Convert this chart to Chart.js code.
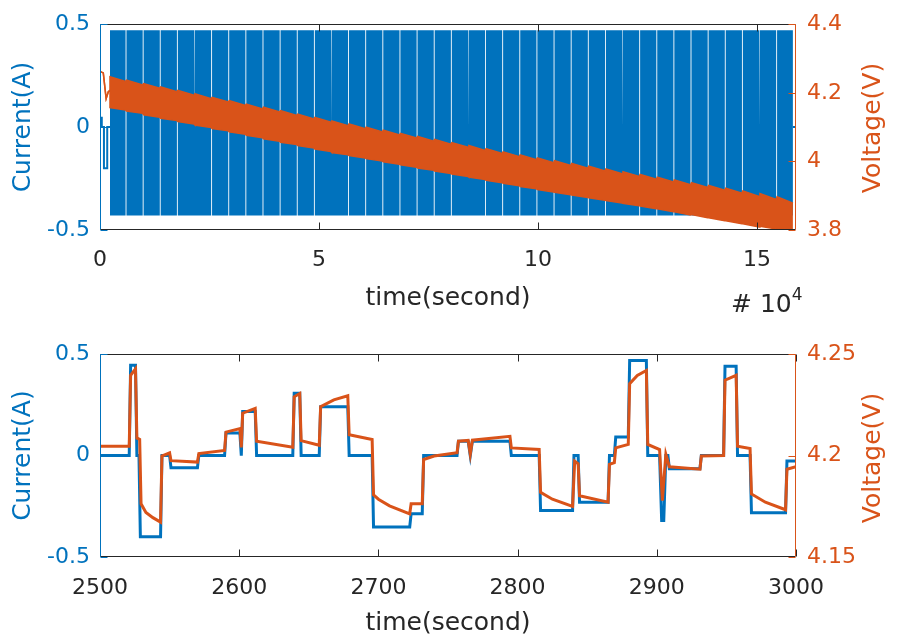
<!DOCTYPE html>
<html>
<head>
<meta charset="utf-8">
<script src="https://cdn.jsdelivr.net/npm/chart.js@4.4.0/dist/chart.umd.min.js"></script>
<style>
  html, body { margin: 0; padding: 0; background: #fff; }
  #wrap { position: relative; width: 899px; height: 637px; overflow: hidden; font-family: "DejaVu Sans", sans-serif; }
  canvas { position: absolute; left: 0; }
  #topChart { top: 0; }
  #bottomChart { top: 330px; }
  .ylab-right { position: absolute; width: 200px; height: 30px; line-height: 30px; font-size: 25px; text-align: center; color: #D95319; transform: rotate(-90deg); white-space: nowrap; }
  #exp { position: absolute; left: 731px; top: 291px; font-size: 25px; line-height: 25px; color: #262626; white-space: nowrap; }
  #exp span { font-size: 17px; position: relative; top: -12px; }
</style>
</head>
<body>
<div id="wrap">
  <canvas id="topChart" width="899" height="330"></canvas>
  <canvas id="bottomChart" width="899" height="320"></canvas>
  <div class="ylab-right" style="left:772px; top:113px">Voltage(V)</div>
  <div class="ylab-right" style="left:772px; top:443px">Voltage(V)</div>
  <div id="exp"># 10<span>4</span></div>
</div>
<script>
const BLUE = '#0072BD', ORANGE = '#D95319', DARK = '#262626';
const FAMILY = '"DejaVu Sans", sans-serif';

// ---- top panel: whole test
const fullTimeTicks = [0, 50000, 100000, 150000];
const fullTimeLabels = ['0', '5', '10', '15'];
const currentTicks = [-0.5, 0, 0.5];
const currentLabels = ['-0.5', '0', '0.5'];
const fullVoltTicks = [3.8, 4.0, 4.2, 4.4];
const fullVoltLabels = ['3.8', '4', '4.2', '4.4'];

// rest + short pulse before the cycling starts
const leadT = [0, 380, 380, 420, 420, 900, 900, 1650, 1650, 2280];
const leadA = [0, 0, 0.05, 0.05, 0, 0, -0.2, -0.2, 0, 0];
const leadVT = [0, 750, 1400, 1900, 2280];
const leadV = [4.262, 4.258, 4.183, 4.203, 4.207];
const tailT = [158200, 158900];
const tailA = [0, 0];

// cycling blocks between the short rests
const blockStart = [2280, 6040, 9950, 13850, 17760, 21670, 25580, 29490, 33400, 37310,
  41220, 45130, 49040, 52940, 56850, 60760, 64670, 68580, 72490, 76400,
  80310, 84220, 88130, 92030, 95940, 99850, 103760, 107670, 111580, 115490,
  119400, 123310, 127220, 131120, 135030, 138940, 142850, 146760, 150670, 154580];
const blockEnd = [5840, 9750, 13650, 17560, 21470, 25380, 29290, 33200, 37110, 41020,
  44930, 48840, 52740, 56650, 60560, 64470, 68380, 72290, 76200, 80110,
  84020, 87930, 91830, 95740, 99650, 103560, 107470, 111380, 115290, 119200,
  123110, 127020, 130920, 134830, 138740, 142650, 146560, 150470, 154380, 158200];
const blockCurMax = 0.47;
const blockCurMin = -0.43;
const voltHiStart = [4.247, 4.237, 4.227, 4.217, 4.207, 4.197, 4.187, 4.177, 4.167, 4.158,
  4.148, 4.138, 4.128, 4.118, 4.109, 4.100, 4.091, 4.082, 4.073, 4.064,
  4.055, 4.046, 4.037, 4.028, 4.019, 4.010, 4.002, 3.994, 3.986, 3.978,
  3.970, 3.962, 3.954, 3.946, 3.938, 3.930, 3.922, 3.914, 3.906, 3.897];
const voltHiEnd = [4.233, 4.223, 4.213, 4.203, 4.193, 4.183, 4.173, 4.163, 4.153, 4.144,
  4.134, 4.124, 4.114, 4.104, 4.095, 4.086, 4.077, 4.068, 4.059, 4.050,
  4.041, 4.032, 4.023, 4.014, 4.005, 3.996, 3.988, 3.980, 3.972, 3.964,
  3.956, 3.948, 3.940, 3.932, 3.924, 3.916, 3.907, 3.898, 3.889, 3.878];
const voltLoStart = [4.157, 4.147, 4.136, 4.126, 4.116, 4.106, 4.096, 4.086, 4.076, 4.066,
  4.056, 4.046, 4.036, 4.026, 4.017, 4.008, 3.999, 3.990, 3.981, 3.972,
  3.963, 3.954, 3.945, 3.936, 3.927, 3.918, 3.910, 3.902, 3.894, 3.886,
  3.878, 3.870, 3.862, 3.853, 3.845, 3.836, 3.827, 3.818, 3.811, 3.806];
const voltLoEnd = [4.150, 4.140, 4.129, 4.119, 4.109, 4.099, 4.089, 4.079, 4.069, 4.059,
  4.049, 4.039, 4.029, 4.019, 4.010, 4.001, 3.992, 3.983, 3.974, 3.965,
  3.956, 3.947, 3.938, 3.929, 3.920, 3.911, 3.903, 3.895, 3.887, 3.879,
  3.871, 3.862, 3.853, 3.844, 3.836, 3.827, 3.818, 3.809, 3.803, 3.801];

// ---- bottom panel: 2500..3000 s close-up
const zoomTimeTicks = [2500, 2600, 2700, 2800, 2900, 3000];
const zoomTimeLabels = ['2500', '2600', '2700', '2800', '2900', '3000'];
const zoomVoltTicks = [4.15, 4.2, 4.25];
const zoomVoltLabels = ['4.15', '4.2', '4.25'];
const zoomCurT = [2500, 2521, 2522, 2525.5, 2526.5, 2528, 2529, 2543.5, 2544.5, 2550,
  2551, 2570, 2571, 2589.5, 2590.5, 2600.5, 2601.5, 2602.5, 2611.5, 2612.5,
  2638.5, 2639.5, 2643.5, 2644.5, 2657.5, 2658.5, 2678, 2679, 2695.5, 2696.5,
  2722.5, 2723.5, 2731.5, 2732.5, 2756.5, 2757.5, 2764.5, 2766, 2767.5, 2794.5,
  2795.5, 2815.5, 2816.5, 2839.5, 2840.5, 2843.5, 2844.5, 2865, 2866, 2869.5,
  2870.5, 2879.5, 2880.5, 2892.5, 2893.5, 2902, 2903.5, 2905, 2906.5, 2908,
  2909, 2931, 2932, 2948, 2949, 2957, 2958, 2967, 2968, 2992.5, 2993.5, 3000];
const zoomCurA = [0, 0, 0.445, 0.445, 0, 0, -0.40, -0.40, 0, 0,
  -0.06, -0.06, 0, 0, 0.111, 0.111, 0, 0.217, 0.217, 0,
  0, 0.307, 0.307, 0, 0, 0.241, 0.241, 0, 0, -0.352,
  -0.352, -0.287, -0.287, 0, 0, 0.071, 0.071, 0, 0.071, 0.071,
  0, 0, -0.271, -0.271, 0, 0, -0.230, -0.230, 0, 0,
  0.092, 0.092, 0.469, 0.469, 0, 0, -0.32, -0.32, 0, 0,
  -0.065, -0.065, 0, 0, 0.441, 0.441, 0, 0, -0.282, -0.282, -0.027, -0.027];
const zoomVoltT = [2500, 2521, 2522, 2525.5, 2526.5, 2528.5, 2529.5, 2533, 2538, 2543.5,
  2544.5, 2550, 2551, 2570, 2571, 2589.5, 2590.5, 2600.5, 2601.5, 2602.5,
  2611.5, 2612.5, 2638.5, 2639.5, 2643.5, 2644.5, 2657.5, 2658.5, 2668, 2678,
  2679, 2695.5, 2696.5, 2700, 2708, 2722.5, 2723.5, 2731.5, 2732.5, 2740,
  2756.5, 2757.5, 2764.5, 2766, 2767.5, 2794.5, 2795.5, 2815.5, 2816.5, 2825,
  2839.5, 2841, 2843.5, 2844.5, 2865, 2866, 2869.5, 2870.5, 2879.5, 2880.5,
  2886, 2892.5, 2893.5, 2902, 2904, 2906.5, 2909, 2931, 2932, 2948,
  2949, 2957, 2958, 2967, 2968, 2978, 2992.5, 2993.5, 3000];
const zoomVoltV = [4.2046, 4.2046, 4.2396, 4.2428, 4.2087, 4.2080, 4.1762, 4.1720, 4.1694, 4.1672,
  4.1998, 4.2014, 4.1975, 4.1968, 4.2010, 4.2025, 4.2116, 4.2133, 4.2040, 4.2209,
  4.2233, 4.2071, 4.2041, 4.2290, 4.2306, 4.2074, 4.2051, 4.2241, 4.2275, 4.2295,
  4.2103, 4.2079, 4.1807, 4.1785, 4.1752, 4.1713, 4.1762, 4.1762, 4.1981, 4.1998,
  4.2014, 4.2071, 4.2075, 4.2007, 4.2076, 4.2095, 4.2038, 4.2030, 4.1819, 4.1785,
  4.1750, 4.1973, 4.1960, 4.1802, 4.1770, 4.1957, 4.1965, 4.2038, 4.2055, 4.2355,
  4.2395, 4.2420, 4.2055, 4.2030, 4.1778, 4.2006, 4.1945, 4.1933, 4.1998, 4.2000,
  4.2372, 4.2396, 4.2046, 4.2035, 4.1811, 4.1770, 4.1733, 4.1933, 4.1945];

const pts = (xs, ys) => xs.map((x, i) => ({ x, y: ys[i] }));

// MATLAB-like box with inward ticks
const boxPlugin = {
    id: 'matlabBox',
    afterDatasetsDraw(chart) {
        const { ctx, chartArea: a, scales } = chart;
        const L = Math.round(a.left) + 0.5, R = Math.round(a.right) - 0.5;
        const T = Math.round(a.top) + 0.5, B = Math.round(a.bottom) - 0.5;
        const seg = (x1, y1, x2, y2) => { ctx.beginPath(); ctx.moveTo(x1, y1); ctx.lineTo(x2, y2); ctx.stroke(); };
        const px = (s, v) => Math.round(s.getPixelForValue(v)) + 0.5;
        ctx.save();
        ctx.lineWidth = 1;
        ctx.strokeStyle = DARK;
        seg(L, T, R, T); seg(L, B, R, B);
        scales.x.ticks.forEach(t => { const p = px(scales.x, t.value); seg(p, B, p, B - 7); seg(p, T, p, T + 7); });
        ctx.strokeStyle = BLUE;
        seg(L, T, L, B);
        scales.y.ticks.forEach(t => { const p = px(scales.y, t.value); seg(L, p, L + 7, p); });
        ctx.strokeStyle = ORANGE;
        seg(R, T, R, B);
        scales.y1.ticks.forEach(t => { const p = px(scales.y1, t.value); seg(R, p, R - 7, p); });
        ctx.restore();
    }
};

function axes(o) {
    const fixTicks = (vals) => (s) => { s.ticks = vals.map(v => ({ value: v })); };
    const noGrid = { display: false, drawTicks: false };
    return {
        x: {
            type: 'linear', min: o.xMin, max: o.xMax,
            afterBuildTicks: fixTicks(o.xTicks),
            afterFit: s => { s.height = o.xHeight; },
            ticks: { callback: (v, i) => o.xLabels[i], color: DARK, font: { family: FAMILY, size: 22 }, padding: o.xPad, maxRotation: 0, autoSkip: false },
            grid: noGrid, border: { display: false },
            title: { display: true, text: 'time(second)', color: DARK, font: { family: FAMILY, size: 25 }, padding: { top: 0, bottom: o.titlePad } }
        },
        y: {
            position: 'left', min: -0.5, max: 0.5,
            afterBuildTicks: fixTicks(currentTicks),
            afterFit: s => { s.width = 100; },
            ticks: { callback: (v, i) => currentLabels[i], color: BLUE, font: { family: FAMILY, size: 22 }, padding: 10 },
            grid: noGrid, border: { display: false },
            title: { display: true, text: 'Current(A)', color: BLUE, font: { family: FAMILY, size: 25 }, padding: { top: 8, bottom: 0 } }
        },
        y1: {
            position: 'right', min: o.vMin, max: o.vMax,
            afterBuildTicks: fixTicks(o.vTicks),
            afterFit: s => { s.width = 103; },
            ticks: { callback: (v, i) => o.vLabels[i], color: ORANGE, font: { family: FAMILY, size: 22 }, padding: 11 },
            grid: noGrid, border: { display: false }
        }
    };
}

const common = {
    responsive: false,
    animation: false,
    events: [],
    elements: { point: { radius: 0 }, line: { tension: 0 } },
    plugins: { legend: { display: false }, tooltip: { enabled: false } }
};

// top panel datasets
const curHi = [], curLo = [], vHi = pts(leadVT, leadV), vLo = pts(leadVT, leadV);
blockStart.forEach((s, k) => {
    const e = blockEnd[k];
    curHi.push({ x: s, y: 0 }, { x: s, y: blockCurMax }, { x: e, y: blockCurMax }, { x: e, y: 0 });
    curLo.push({ x: s, y: 0 }, { x: s, y: blockCurMin }, { x: e, y: blockCurMin }, { x: e, y: 0 });
    vHi.push({ x: s, y: voltHiStart[k] }, { x: e, y: voltHiEnd[k] });
    vLo.push({ x: s, y: voltLoStart[k] }, { x: e, y: voltLoEnd[k] });
});
const restLine = pts(leadT, leadA).concat([{ x: 2300, y: null }], pts(tailT, tailA));

new Chart(document.getElementById('topChart'), {
    type: 'line',
    data: {
        datasets: [
            { data: vHi, yAxisID: 'y1', borderColor: ORANGE, borderWidth: 1.5, backgroundColor: ORANGE, fill: '+1' },
            { data: vLo, yAxisID: 'y1', borderColor: ORANGE, borderWidth: 1.5, fill: false },
            { data: restLine, yAxisID: 'y', borderColor: BLUE, borderWidth: 2, fill: false },
            { data: curHi, yAxisID: 'y', borderWidth: 0, borderColor: BLUE, backgroundColor: BLUE, fill: 'origin' },
            { data: curLo, yAxisID: 'y', borderWidth: 0, borderColor: BLUE, backgroundColor: BLUE, fill: 'origin' }
        ]
    },
    options: Object.assign({}, common, {
        layout: { padding: { top: 24, bottom: 0, left: 0, right: 0 } },
        scales: axes({
            xMin: 0, xMax: 158900, xTicks: fullTimeTicks, xLabels: fullTimeLabels, xHeight: 100, xPad: 17, titlePad: 17,
            vMin: 3.8, vMax: 4.4, vTicks: fullVoltTicks, vLabels: fullVoltLabels
        })
    }),
    plugins: [boxPlugin]
});

new Chart(document.getElementById('bottomChart'), {
    type: 'line',
    data: {
        datasets: [
            { data: pts(zoomVoltT, zoomVoltV), yAxisID: 'y1', borderColor: ORANGE, borderWidth: 3, fill: false },
            { data: pts(zoomCurT, zoomCurA), yAxisID: 'y', borderColor: BLUE, borderWidth: 3, fill: false }
        ]
    },
    options: Object.assign({}, common, {
        layout: { padding: { top: 24, bottom: 0, left: 0, right: 0 } },
        scales: axes({
            xMin: 2500, xMax: 3000, xTicks: zoomTimeTicks, xLabels: zoomTimeLabels, xHeight: 93, xPad: 18, titlePad: 12,
            vMin: 4.15, vMax: 4.25, vTicks: zoomVoltTicks, vLabels: zoomVoltLabels
        })
    }),
    plugins: [boxPlugin]
});
</script>
</body>
</html>
